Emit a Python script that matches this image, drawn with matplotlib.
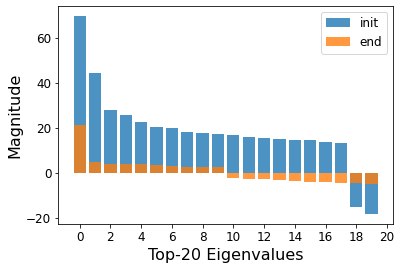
import numpy as np
import matplotlib
matplotlib.use("Agg")
import matplotlib.pyplot as plt

# top-20 eigenvalues, at init and at end of training
idx = np.arange(20)
init_vals = [69.8, 44.4, 28.0, 25.8, 22.7, 20.4, 20.0, 18.2, 17.8, 17.3,
             16.9, 16.0, 15.6, 15.1, 14.7, 14.7, 13.8, 13.3, -15.1, -18.2]
end_vals = [21.3, 4.9, 4.3, 4.0, 4.0, 3.6, 3.1, 2.7, 2.7, 2.7,
            -2.2, -2.7, -2.7, -3.1, -3.6, -4.0, -4.0, -4.4, -4.4, -4.9]
xticks = np.arange(0, 21, 2)

fig = plt.figure(figsize=(401 / 72, 270 / 72), dpi=72)
ax = fig.add_axes([0.1454, 0.1693, 0.8346, 0.8085])

ax.bar(idx, init_vals, alpha=0.8, label='init')
ax.bar(idx, end_vals, alpha=0.8, label='end')

ax.set_xticks(xticks)
ax.tick_params(labelsize=12)
ax.set_xlabel('Top-20 Eigenvalues', fontsize=16)
ax.set_ylabel('Magnitude', fontsize=16)
ax.legend(fontsize=12)

fig.savefig('out.png', dpi=72)
